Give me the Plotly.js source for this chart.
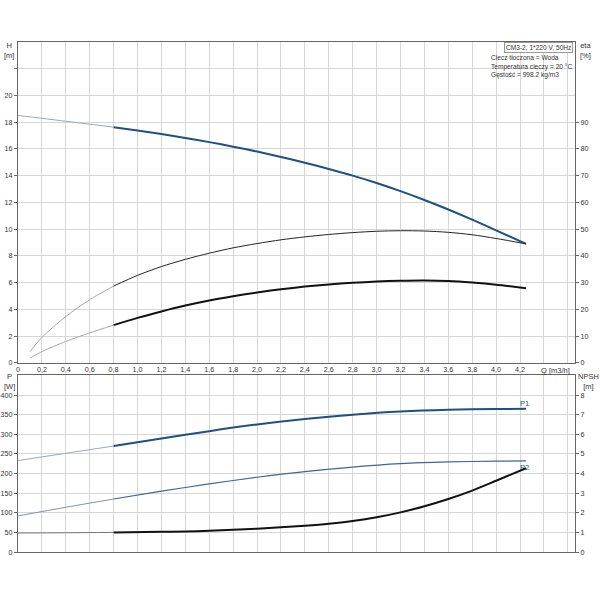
<!DOCTYPE html>
<html>
<head>
<meta charset="utf-8">
<script src="https://cdn.plot.ly/plotly-3.0.1.min.js"></script>
<style>
  html, body { margin: 0; padding: 0; background: #fff; }
  #graph_area { width: 600px; height: 600px; }
</style>
</head>
<body>
<div id="graph_area"></div>
<script>
// pump curve data
const qH = [0, 0.2, 0.4, 0.6, 0.8, 1.0, 1.2, 1.4, 1.6, 1.8, 2.0, 2.2, 2.4, 2.6, 2.8, 3.0, 3.2, 3.4, 3.6, 3.8, 4.0, 4.25];
const head = [18.5, 18.29, 18.07, 17.85, 17.63, 17.38, 17.11, 16.82, 16.51, 16.17, 15.80, 15.40, 14.97, 14.50, 14.0, 13.45, 12.84, 12.18, 11.47, 10.71, 9.91, 8.9];

const qEta = [0.1, 0.2, 0.4, 0.6, 0.8, 1.0, 1.2, 1.4, 1.6, 1.8, 2.0, 2.2, 2.4, 2.6, 2.8, 3.0, 3.2, 3.4, 3.6, 3.8, 4.0, 4.25];
const etaPump = [4.2, 9.5, 17.3, 23.6, 28.7, 32.7, 36.0, 38.7, 41.0, 43.0, 44.6, 46.0, 47.1, 48.0, 48.7, 49.2, 49.4, 49.3, 48.8, 47.9, 46.5, 44.5];
const etaTotal = [1.75, 4.2, 8.0, 11.2, 14.1, 16.8, 19.2, 21.4, 23.3, 24.9, 26.3, 27.5, 28.5, 29.3, 29.9, 30.4, 30.7, 30.8, 30.6, 30.0, 29.2, 27.9];

const qP = [0, 0.4, 0.8, 1.2, 1.6, 2.0, 2.4, 2.8, 3.2, 3.6, 4.0, 4.25];
const p1 = [233, 251.5, 270, 289, 308, 325, 339, 350, 358, 362.5, 364.5, 365];
const p2 = [92, 114, 135, 155, 173.5, 190.5, 205, 216.5, 225, 229.5, 231.5, 232];

const qNpsh = [0, 0.4, 0.8, 1.2, 1.4, 1.6, 1.8, 2.0, 2.2, 2.4, 2.6, 2.8, 3.0, 3.2, 3.4, 3.6, 3.8, 4.0, 4.25];
const npsh = [0.97, 0.98, 1.0, 1.03, 1.05, 1.08, 1.13, 1.19, 1.26, 1.34, 1.44, 1.58, 1.77, 2.02, 2.33, 2.70, 3.13, 3.63, 4.27];

const qTickVals = [0, 0.2, 0.4, 0.6, 0.8, 1.0, 1.2, 1.4, 1.6, 1.8, 2.0, 2.2, 2.4, 2.6, 2.8, 3.0, 3.2, 3.4, 3.6, 3.8, 4.0, 4.2, 4.4, 4.6];
const qTickText = ["0", "0,2", "0,4", "0,6", "0,8", "1,0", "1,2", "1,4", "1,6", "1,8", "2,0", "2,2", "2,4", "2,6", "2,8", "3,0", "3,2", "3,4", "3,6", "3,8", "4,0", "4,2", "", ""];
const hTickVals = [0, 2, 4, 6, 8, 10, 12, 14, 16, 18, 20, 22];
const hTickText = ["0", "2", "4", "6", "8", "10", "12", "14", "16", "18", "20", ""];
const etaTickVals = [0, 10, 20, 30, 40, 50, 60, 70, 80, 90];
const pTickVals = [0, 50, 100, 150, 200, 250, 300, 350, 400];
const npshTickVals = [0, 1, 2, 3, 4, 5, 6, 7, 8];

const opStart = 0.8; // thin line below, thick line above

function part(xs, ys, lower) {
    const x = [], y = [];
    xs.forEach((q, i) => {
        if (lower ? q <= opStart : q >= opStart) { x.push(q); y.push(ys[i]); }
    });
    return { x, y };
}

function curve(xs, ys, xa, ya, thinColor, thickColor, thickWidth) {
    const a = part(xs, ys, true), b = part(xs, ys, false);
    return [
        { x: a.x, y: a.y, xaxis: xa, yaxis: ya, mode: "lines", type: "scatter",
          line: { color: thinColor, width: 1, shape: "spline", smoothing: 0.8 }, hoverinfo: "skip" },
        { x: b.x, y: b.y, xaxis: xa, yaxis: ya, mode: "lines", type: "scatter",
          line: { color: thickColor, width: thickWidth, shape: "spline", smoothing: 0.8 }, hoverinfo: "skip" },
    ];
}

const blue = "#1f4f85";
const blueThin = "#9aa8ba";
const black = "#111111";
const grayThin = "#a8a8a8";

const traces = [].concat(
    curve(qH, head, "x", "y", blueThin, blue, 2),
    curve(qEta, etaPump, "x", "y2", grayThin, "#222222", 1),
    curve(qEta, etaTotal, "x", "y2", grayThin, black, 2),
    curve(qP, p1, "x2", "y3", blueThin, blue, 2),
    curve(qP, p2, "x2", "y3", "#7f93ad", "#3d6797", 1.2),
    curve(qNpsh, npsh, "x2", "y4", "#777777", black, 2)
);

const fontFam = "Liberation Sans, Arial, sans-serif";
const tickFont = { family: fontFam, size: 7.2, color: "#333" };
const gridColor = "#d6d6d6";
const lineColor = "#666";

const xBase = {
    range: [0, 4.66], tickmode: "array", tickvals: qTickVals, ticktext: qTickText,
    showgrid: true, gridcolor: gridColor, zeroline: false,
    showline: true, linecolor: lineColor, mirror: true, linewidth: 1,
    ticks: "", tickfont: tickFont, fixedrange: true,
};

const yBase = {
    zeroline: false, showline: true, linecolor: lineColor,
    ticks: "outside", ticklen: 3, tickcolor: lineColor, tickfont: tickFont,
};

const notes = [
    { text: "H<br>[m]", x: 9, y: 50 },
    { text: "eta<br>[%]", x: 585, y: 50 },
    { text: "Q [m3/h]", x: 572, y: 371, xanchor: "right", align: "right" },
    { text: "P<br>[W]", x: 9, y: 381 },
    { text: "NPSH<br>[m]", x: 588, y: 381 },
    { text: "P1", x: 524, y: 404, font: { color: blue } },
    { text: "P2", x: 524, y: 467, font: { color: blue } },
    { text: "CM3-2, 1*220 V, 50Hz", x: 573, y: 47.5, xanchor: "right",
      bordercolor: "#999", borderwidth: 1, borderpad: 1, bgcolor: "#fff", font: { size: 6.6 } },
    { text: "Ciecz tłoczona = Woda<br>Temperatura cieczy = 20 °C<br>Gęstość = 998.2 kg/m3",
      x: 489, y: 66.5, xanchor: "left", align: "left", font: { size: 6.6 } },
];

// annotation positions given in page pixels, converted to paper fractions
const pw = 600 - 18 - 25, ph = 600 - 42 - 48;
const annotations = notes.map(a => Object.assign({ xref: "paper", yref: "paper", showarrow: false }, a, {
    x: (a.x - 18) / pw,
    y: (600 - 48 - a.y) / ph,
    xanchor: a.xanchor || "center",
    yanchor: "middle",
    font: Object.assign({ family: fontFam, size: 7.5, color: "#333" }, a.font || {}),
}));

const layout = {
    width: 600, height: 600,
    margin: { l: 18, r: 25, t: 42, b: 48 },
    paper_bgcolor: "#fff", plot_bgcolor: "#fff",
    showlegend: false,
    xaxis: Object.assign({}, xBase, { anchor: "y", showticklabels: true }),
    xaxis2: Object.assign({}, xBase, { anchor: "y3", showticklabels: false }),
    yaxis: Object.assign({}, yBase, {
        domain: [0.371, 1], range: [0, 24], tickmode: "array",
        tickvals: hTickVals, ticktext: hTickText,
        showgrid: true, gridcolor: gridColor, mirror: true,
    }),
    yaxis2: Object.assign({}, yBase, {
        overlaying: "y", side: "right", anchor: "x", range: [0, 120],
        tickmode: "array", tickvals: etaTickVals, showgrid: false,
    }),
    yaxis3: Object.assign({}, yBase, {
        domain: [0, 0.347], range: [0, 451], tickmode: "array",
        tickvals: pTickVals, anchor: "x2",
        showgrid: true, gridcolor: gridColor, mirror: true,
    }),
    yaxis4: Object.assign({}, yBase, {
        overlaying: "y3", side: "right", anchor: "x2", range: [0, 9.02],
        tickmode: "array", tickvals: npshTickVals, showgrid: false,
    }),
    annotations: annotations,
};

Plotly.newPlot("graph_area", traces, layout, { displayModeBar: false, staticPlot: true });
</script>
</body>
</html>
